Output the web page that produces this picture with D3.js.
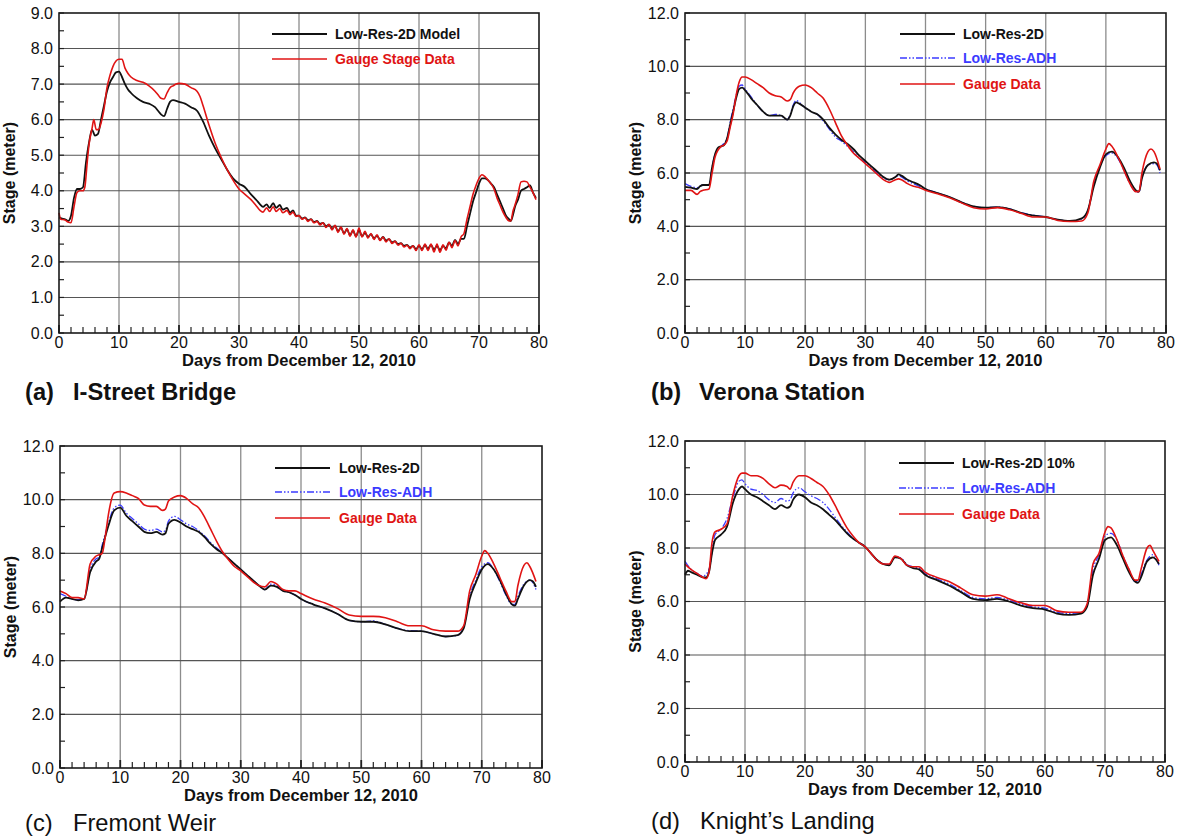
<!DOCTYPE html>
<html>
<head>
<meta charset="utf-8">
<script src="https://cdn.jsdelivr.net/npm/d3@7"></script>
<style>
  html, body { margin: 0; padding: 0; background: #fff; }
  svg { display: block; font-family: "Liberation Sans", Arial, sans-serif; }
</style>
</head>
<body>
<svg id="fig" width="1179" height="836"></svg>
<script>
// ---- Stage records, days from December 12, 2010 ----
const dayTicks = [0, 10, 20, 30, 40, 50, 60, 70, 80];
const stageTicksA = [0, 1, 2, 3, 4, 5, 6, 7, 8, 9];
const stageTicksBCD = [0, 2, 4, 6, 8, 10, 12];

// (a) I-Street Bridge
const iStreetModel = [[0,3.25],[0.5,3.22],[1,3.2],[1.5,3.15],[2,3.3],[2.5,3.8],[3,4.05],[3.5,4.05],[4,4.1],[4.5,4.8],[5,5.35],[5.5,5.72],[6,5.55],[6.5,5.6],[7,6.0],[7.5,6.4],[8,6.8],[8.5,7.05],[9,7.2],[9.5,7.33],[10,7.35],[10.5,7.2],[11,7.0],[11.5,6.85],[12,6.75],[13,6.6],[14,6.5],[15,6.45],[16,6.35],[16.5,6.25],[17,6.15],[17.5,6.1],[18,6.3],[18.5,6.5],[19,6.55],[20,6.5],[21,6.45],[22,6.35],[23,6.25],[24,5.95],[25,5.55],[26,5.2],[27,4.9],[28,4.6],[29,4.35],[30,4.2],[31,4.1],[32,3.9],[33,3.72],[33.5,3.62],[34,3.55],[34.6,3.62],[35.1,3.52],[35.7,3.65],[36.2,3.52],[36.8,3.6],[37.3,3.47],[38,3.52],[38.5,3.38],[39,3.45],[39.5,3.3],[40,3.3],[40.5,3.22],[41,3.25],[41.5,3.17],[42,3.2],[42.5,3.12],[43,3.15],[43.5,3.07],[44,3.1],[44.5,3.0],[45,3.05],[45.5,2.93],[46,3.02],[46.5,2.86],[47,2.97],[47.5,2.8],[48,2.92],[48.5,2.75],[49,2.88],[49.5,2.72],[50,2.9],[50.5,2.72],[51,2.82],[51.5,2.7],[52,2.78],[52.5,2.66],[53,2.74],[53.5,2.62],[54,2.7],[54.5,2.6],[55,2.64],[55.5,2.55],[56,2.58],[56.5,2.5],[57,2.53],[57.5,2.45],[58,2.48],[58.5,2.4],[59,2.45],[59.5,2.36],[60,2.45],[60.5,2.36],[61,2.47],[61.5,2.37],[62,2.48],[62.5,2.35],[63,2.45],[63.5,2.33],[64,2.45],[64.5,2.38],[65,2.55],[65.5,2.45],[66,2.62],[66.5,2.5],[67,2.65],[67.5,2.65],[68,3.0],[68.5,3.35],[69,3.7],[69.5,3.95],[70,4.2],[70.5,4.35],[71,4.35],[71.5,4.3],[72,4.2],[72.5,4.1],[73,3.9],[73.5,3.7],[74,3.5],[74.5,3.3],[75,3.2],[75.3,3.15],[75.7,3.35],[76,3.55],[76.5,3.75],[77,4.0],[77.5,4.05],[78,4.1],[78.5,4.15],[79,3.95],[79.5,3.8]];
const iStreetGauge = [[0,3.38],[0.3,3.2],[1,3.18],[1.5,3.12],[2,3.1],[2.5,3.55],[3,3.95],[3.5,4.0],[4,4.0],[4.3,4.1],[4.7,4.8],[5,5.3],[5.5,5.75],[5.8,6.0],[6.2,5.72],[6.6,5.72],[7,5.9],[7.5,6.3],[8,6.9],[8.5,7.25],[9,7.5],[9.5,7.65],[10,7.7],[10.5,7.7],[11,7.45],[11.5,7.3],[12,7.2],[13,7.1],[14,7.05],[15,6.95],[16,6.8],[16.5,6.7],[17,6.6],[17.5,6.58],[18,6.75],[18.5,6.9],[19,6.95],[19.5,7.0],[20,7.02],[21,7.0],[22,6.9],[23,6.8],[23.5,6.65],[24,6.4],[25,5.85],[26,5.35],[27,4.95],[28,4.6],[29,4.3],[30,4.05],[31,3.9],[32,3.75],[33,3.55],[33.5,3.45],[34,3.4],[34.6,3.52],[35.1,3.42],[35.7,3.55],[36.2,3.42],[36.8,3.5],[37.3,3.38],[38,3.45],[38.5,3.33],[39,3.4],[39.5,3.28],[40,3.3],[40.5,3.2],[41,3.24],[41.5,3.14],[42,3.2],[42.5,3.1],[43,3.14],[43.5,3.04],[44,3.1],[44.5,2.97],[45,3.06],[45.5,2.9],[46,3.03],[46.5,2.83],[47,2.98],[47.5,2.78],[48,2.94],[48.5,2.72],[49,2.9],[49.5,2.7],[50,2.95],[50.5,2.7],[51,2.86],[51.5,2.67],[52,2.8],[52.5,2.63],[53,2.76],[53.5,2.6],[54,2.7],[54.5,2.56],[55,2.65],[55.5,2.52],[56,2.58],[56.5,2.47],[57,2.52],[57.5,2.42],[58,2.47],[58.5,2.37],[59,2.45],[59.5,2.32],[60,2.48],[60.5,2.32],[61,2.5],[61.5,2.32],[62,2.5],[62.5,2.28],[63,2.5],[63.5,2.27],[64,2.48],[64.5,2.33],[65,2.55],[65.5,2.4],[66,2.6],[66.5,2.45],[67,2.7],[67.5,2.8],[68,3.2],[68.5,3.55],[69,3.9],[69.5,4.15],[70,4.35],[70.5,4.45],[71,4.4],[71.5,4.3],[72,4.2],[72.5,4.05],[73,3.8],[73.5,3.6],[74,3.4],[74.5,3.25],[75,3.15],[75.3,3.15],[75.7,3.45],[76,3.6],[76.5,3.9],[77,4.25],[77.5,4.27],[78,4.25],[78.5,4.1],[79,3.95],[79.5,3.75]];

// (b) Verona Station
const veronaModel = [[0,5.48],[1,5.45],[2,5.4],[2.5,5.5],[3,5.55],[4,5.55],[4.5,6.2],[5,6.7],[5.5,6.95],[6,7.0],[6.5,7.05],[7,7.3],[7.5,7.8],[8,8.3],[8.5,8.8],[9,9.15],[9.5,9.2],[10,9.1],[11,8.8],[12,8.55],[13,8.3],[14,8.15],[15,8.15],[16,8.15],[17,8.0],[17.5,8.15],[18,8.5],[18.5,8.65],[19,8.6],[20,8.45],[21,8.3],[22,8.2],[23,8.0],[24,7.7],[25,7.45],[26,7.25],[27,7.1],[28,6.9],[29,6.65],[30,6.45],[31,6.25],[32,6.05],[33,5.85],[34,5.75],[35,5.85],[35.5,5.95],[36,5.9],[37,5.75],[38,5.65],[39,5.55],[40,5.4],[42,5.25],[44,5.1],[46,4.9],[48,4.75],[50,4.7],[52,4.72],[54,4.65],[56,4.5],[58,4.4],[60,4.35],[62,4.25],[64,4.2],[66,4.3],[67,4.6],[68,5.5],[69,6.2],[70,6.7],[71,6.8],[72,6.6],[73,6.2],[74,5.7],[75,5.35],[75.5,5.3],[76,5.8],[77,6.3],[78,6.4],[78.5,6.35],[79,6.1]];
const veronaAdh = [[0,5.6],[1,5.5],[2,5.45],[3,5.55],[4,5.55],[4.5,6.2],[5,6.7],[6,7.0],[7,7.3],[7.5,7.9],[8,8.4],[8.5,8.9],[9,9.25],[9.5,9.3],[10,9.15],[11,8.85],[12,8.55],[13,8.3],[14,8.15],[15,8.2],[16,8.15],[17,8.0],[17.5,8.2],[18,8.55],[18.5,8.72],[19,8.65],[20,8.45],[21,8.3],[22,8.2],[23,7.95],[24,7.65],[25,7.35],[26,7.2],[27,7.0],[28,6.8],[29,6.55],[30,6.4],[31,6.2],[32,6.0],[33,5.8],[34,5.75],[35,5.85],[35.5,5.9],[36,5.85],[37,5.7],[38,5.6],[39,5.5],[40,5.4],[42,5.25],[44,5.1],[46,4.9],[48,4.75],[50,4.7],[52,4.72],[54,4.65],[56,4.5],[58,4.42],[60,4.35],[62,4.25],[64,4.2],[66,4.28],[67,4.6],[68,5.6],[69,6.25],[70,6.65],[71,6.75],[72,6.55],[73,6.1],[74,5.6],[75,5.3],[75.5,5.28],[76,5.8],[77,6.3],[78,6.35],[78.5,6.3],[79,6.0]];
const veronaGauge = [[0,5.35],[1,5.35],[2,5.2],[2.5,5.3],[3,5.35],[4,5.4],[4.5,6.0],[5,6.6],[6,7.0],[6.5,7.05],[7,7.2],[7.5,7.7],[8,8.2],[8.5,8.9],[9,9.4],[9.5,9.6],[10,9.6],[11,9.5],[12,9.35],[13,9.2],[14,9.0],[15,8.9],[16,8.85],[17,8.7],[17.5,8.75],[18,9.0],[19,9.25],[20,9.3],[21,9.2],[22,9.0],[23,8.8],[24,8.4],[25,7.9],[26,7.4],[27,7.05],[28,6.75],[29,6.55],[30,6.35],[31,6.15],[32,5.95],[33,5.75],[34,5.65],[35,5.75],[35.5,5.78],[36,5.75],[37,5.6],[38,5.5],[39,5.45],[40,5.35],[42,5.22],[44,5.07],[46,4.88],[48,4.7],[50,4.65],[52,4.7],[54,4.62],[56,4.48],[58,4.35],[60,4.35],[62,4.22],[64,4.18],[66,4.2],[67,4.5],[68,5.7],[69,6.3],[70,6.9],[70.5,7.1],[71,7.0],[72,6.6],[73,6.1],[74,5.6],[75,5.3],[75.5,5.3],[76,6.0],[77,6.8],[77.5,6.9],[78,6.8],[79,6.15]];

// (c) Fremont Weir
const fremontModel = [[0,6.2],[1,6.35],[2,6.3],[3,6.25],[4,6.3],[5,7.3],[6,7.7],[6.5,7.8],[7,8.2],[8,9.0],[9,9.6],[10,9.7],[11,9.4],[12,9.2],[13,9.0],[14,8.8],[15,8.75],[16,8.8],[17,8.7],[17.5,8.75],[18,9.1],[19,9.25],[20,9.15],[21,9.0],[22,8.9],[23,8.8],[24,8.6],[25,8.35],[26,8.15],[27,8.0],[28,7.8],[29,7.6],[30,7.4],[31,7.2],[32,7.0],[33,6.8],[34,6.65],[35,6.8],[36,6.75],[37,6.6],[38,6.55],[39,6.45],[40,6.3],[42,6.1],[44,5.95],[46,5.75],[48,5.5],[50,5.45],[52,5.45],[54,5.35],[56,5.2],[58,5.1],[60,5.1],[62,5.0],[64,4.9],[66,4.95],[67,5.2],[68,6.3],[69,6.9],[70,7.4],[71,7.6],[72,7.4],[73,7.0],[74,6.5],[75,6.1],[75.5,6.05],[76,6.3],[77,6.8],[78,7.0],[78.5,6.95],[79,6.75]];
const fremontAdh = [[0,6.5],[1,6.4],[2,6.3],[3,6.27],[4,6.3],[5,7.4],[6,7.8],[6.5,7.85],[7,8.3],[8,9.1],[9,9.7],[10,9.8],[11,9.5],[12,9.3],[13,9.1],[14,8.9],[15,8.85],[16,8.9],[17,8.8],[17.5,8.85],[18,9.2],[19,9.38],[20,9.25],[21,9.1],[22,9.0],[23,8.85],[24,8.65],[25,8.4],[26,8.2],[27,8.0],[28,7.8],[29,7.6],[30,7.4],[31,7.2],[32,7.0],[33,6.8],[34,6.65],[35,6.85],[36,6.8],[37,6.6],[38,6.55],[39,6.45],[40,6.3],[42,6.1],[44,5.95],[46,5.75],[48,5.5],[50,5.45],[52,5.48],[54,5.35],[56,5.2],[58,5.12],[60,5.1],[62,5.0],[64,4.9],[66,4.95],[67,5.25],[68,6.4],[69,7.0],[70,7.5],[71,7.65],[72,7.4],[73,6.95],[74,6.45],[75,6.1],[75.5,6.1],[76,6.4],[77,6.85],[78,7.0],[78.5,6.9],[79,6.65]];
const fremontGauge = [[0,6.6],[1,6.5],[2,6.35],[3,6.35],[4,6.3],[5,7.6],[6,7.9],[7,8.0],[7.5,8.6],[8,9.4],[9,10.25],[10,10.3],[11,10.25],[12,10.15],[13,10.05],[14,9.8],[15,9.75],[16,9.75],[17,9.6],[17.5,9.65],[18,9.95],[19,10.1],[20,10.15],[21,10.05],[22,9.85],[23,9.7],[24,9.35],[25,8.9],[26,8.45],[27,8.05],[28,7.75],[29,7.5],[30,7.35],[31,7.15],[32,6.95],[33,6.8],[34,6.75],[35,6.95],[36,6.85],[37,6.65],[38,6.6],[39,6.6],[40,6.5],[42,6.3],[44,6.15],[46,5.95],[48,5.7],[50,5.65],[52,5.65],[54,5.6],[56,5.45],[58,5.3],[60,5.3],[62,5.15],[64,5.1],[66,5.1],[67,5.3],[68,6.6],[69,7.2],[70,7.9],[70.5,8.1],[71,8.0],[72,7.6],[73,7.1],[74,6.6],[75,6.2],[75.5,6.2],[76,6.8],[77,7.55],[77.5,7.65],[78,7.5],[79,6.95]];

// (d) Knight's Landing
const knightsModel = [[0,7.0],[0.5,7.15],[1,7.1],[2,7.0],[3,6.9],[3.5,6.9],[4,7.1],[4.5,7.8],[5,8.3],[6,8.5],[7,8.8],[8,9.7],[9,10.2],[9.5,10.3],[10,10.2],[11,10.0],[12,9.9],[13,9.75],[14,9.6],[15,9.45],[16,9.6],[17,9.5],[17.5,9.55],[18,9.8],[19,10.0],[20,9.9],[21,9.7],[22,9.6],[23,9.45],[24,9.25],[25,9.05],[26,8.8],[27,8.55],[28,8.35],[29,8.2],[30,8.05],[31,7.8],[32,7.55],[33,7.4],[34,7.35],[35,7.65],[36,7.6],[37,7.35],[38,7.25],[39,7.2],[40,7.0],[42,6.8],[44,6.6],[46,6.35],[48,6.1],[50,6.05],[52,6.1],[54,6.0],[56,5.85],[58,5.75],[60,5.7],[62,5.55],[64,5.5],[66,5.55],[67,5.8],[68,7.0],[69,7.6],[70,8.3],[71,8.4],[72,8.1],[73,7.6],[74,7.1],[75,6.75],[75.5,6.7],[76,6.9],[77,7.5],[78,7.65],[79,7.4]];
const knightsAdh = [[0,7.5],[1,7.2],[2,7.05],[3,6.95],[4,7.2],[5,8.5],[6,8.7],[7,9.1],[8,9.9],[9,10.5],[9.5,10.55],[10,10.4],[11,10.2],[12,10.15],[13,10.0],[14,9.8],[15,9.7],[16,9.85],[17,9.75],[17.5,9.8],[18,10.05],[19,10.25],[20,10.1],[21,9.95],[22,9.85],[23,9.7],[24,9.45],[25,9.15],[26,8.85],[27,8.6],[28,8.35],[29,8.2],[30,8.05],[31,7.8],[32,7.55],[33,7.42],[34,7.38],[35,7.68],[36,7.62],[37,7.38],[38,7.3],[39,7.25],[40,7.05],[42,6.85],[44,6.65],[46,6.4],[48,6.15],[50,6.1],[52,6.15],[54,6.05],[56,5.9],[58,5.8],[60,5.75],[62,5.6],[64,5.55],[66,5.58],[67,5.85],[68,7.2],[69,7.75],[70,8.45],[71,8.55],[72,8.3],[73,7.7],[74,7.2],[75,6.75],[75.5,6.75],[76,7.0],[77,7.55],[78,7.75],[79,7.35]];
const knightsGauge = [[0,7.4],[1,7.2],[2,7.05],[3,6.9],[3.5,6.85],[4,7.1],[4.5,8.2],[5,8.6],[6,8.7],[7,8.9],[8,10.0],[9,10.7],[9.5,10.8],[10,10.8],[11,10.7],[12,10.7],[13,10.6],[14,10.4],[15,10.25],[16,10.35],[17,10.3],[17.5,10.2],[18,10.45],[19,10.7],[20,10.7],[21,10.6],[22,10.45],[23,10.3],[24,10.0],[25,9.6],[26,9.15],[27,8.75],[28,8.45],[29,8.2],[30,8.05],[31,7.8],[32,7.55],[33,7.4],[34,7.4],[35,7.7],[36,7.6],[37,7.35],[38,7.3],[39,7.3],[40,7.1],[42,6.9],[44,6.75],[46,6.5],[48,6.25],[50,6.2],[52,6.25],[53,6.2],[54,6.1],[56,5.95],[58,5.85],[60,5.85],[62,5.65],[64,5.6],[66,5.6],[67,5.9],[68,7.4],[69,7.8],[70,8.6],[70.5,8.8],[71,8.75],[72,8.3],[73,7.7],[74,7.2],[75,6.8],[75.5,6.8],[76,7.2],[77,8.0],[77.5,8.1],[78,7.9],[79,7.5]];

// ---- Drawing ----
const COLORS = { model: "#111111", adh: "#3b3bff", gauge: "#e01414" };

const panels = [
  { box: [59, 13, 539, 333], yMax: 9, yTicks: stageTicksA, yMinorStep: 0.5,
    caption: ["(a)", "I-Street Bridge"], captionBold: true, capX: [25, 73], capY: 400,
    legend: { x1: 272, x2: 327, tx: 335, rows: [34, 59] },
    series: [
      { name: "Low-Res-2D Model", data: iStreetModel, kind: "model" },
      { name: "Gauge Stage Data", data: iStreetGauge, kind: "gauge" } ] },
  { box: [685, 13, 1166, 333], yMax: 12, yTicks: stageTicksBCD, yMinorStep: 1,
    caption: ["(b)", "Verona Station"], captionBold: true, capX: [651, 699], capY: 400,
    legend: { x1: 900, x2: 955, tx: 963, rows: [34, 58, 84] },
    series: [
      { name: "Low-Res-2D", data: veronaModel, kind: "model" },
      { name: "Low-Res-ADH", data: veronaAdh, kind: "adh" },
      { name: "Gauge Data", data: veronaGauge, kind: "gauge" } ] },
  { box: [60, 446, 542, 768], yMax: 12, yTicks: stageTicksBCD, yMinorStep: 1,
    caption: ["(c)", "Fremont Weir"], captionBold: false, capX: [25, 73], capY: 831,
    legend: { x1: 275, x2: 330, tx: 339, rows: [468, 492, 518] },
    series: [
      { name: "Low-Res-2D", data: fremontModel, kind: "model" },
      { name: "Low-Res-ADH", data: fremontAdh, kind: "adh" },
      { name: "Gauge Data", data: fremontGauge, kind: "gauge" } ] },
  { box: [685, 441, 1165, 762], yMax: 12, yTicks: stageTicksBCD, yMinorStep: 1,
    caption: ["(d)", "Knight\u2019s Landing"], captionBold: false, capX: [651, 700], capY: 829,
    legend: { x1: 899, x2: 954, tx: 962, rows: [463, 488, 514] },
    series: [
      { name: "Low-Res-2D 10%", data: knightsModel, kind: "model" },
      { name: "Low-Res-ADH", data: knightsAdh, kind: "adh" },
      { name: "Gauge Data", data: knightsGauge, kind: "gauge" } ] }
];

const svg = d3.select("#fig");

function styleLine(sel, kind) {
  sel.attr("fill", "none")
     .attr("stroke", COLORS[kind])
     .attr("stroke-width", kind === "model" ? 1.8 : (kind === "adh" ? 1.3 : 1.6))
     .attr("stroke-linejoin", "round")
     .attr("stroke-dasharray", kind === "adh" ? "7,2,1.5,2,1.5,2" : null);
}

panels.forEach(p => {
  const [x0, y0, x1, y1] = p.box;
  const x = d3.scaleLinear().domain([0, 80]).range([x0, x1]);
  const y = d3.scaleLinear().domain([0, p.yMax]).range([y1, y0]);
  const g = svg.append("g");

  // grid lines
  g.append("g").selectAll("line").data(dayTicks.slice(1, -1)).join("line")
    .attr("x1", d => x(d)).attr("x2", d => x(d))
    .attr("y1", y0).attr("y2", y1)
    .attr("stroke", "#8c8c8c").attr("stroke-width", 1.3);
  g.append("g").selectAll("line").data(p.yTicks.slice(1, -1)).join("line")
    .attr("x1", x0).attr("x2", x1)
    .attr("y1", d => y(d)).attr("y2", d => y(d))
    .attr("stroke", "#555").attr("stroke-width", 1.1);

  // inward minor ticks (bottom every 2 days, left every half/whole step)
  const xMinor = d3.range(0, 80.01, 2);
  g.append("g").selectAll("line").data(xMinor).join("line")
    .attr("x1", d => x(d)).attr("x2", d => x(d))
    .attr("y1", y1).attr("y2", d => y1 - (d % 10 === 0 ? 8 : 6))
    .attr("stroke", "#222").attr("stroke-width", d => d % 10 === 0 ? 1.8 : 1.2);
  const yMinor = d3.range(0, p.yMax + 0.001, p.yMinorStep);
  g.append("g").selectAll("line").data(yMinor).join("line")
    .attr("x1", x0).attr("x2", x0 + 5)
    .attr("y1", d => y(d)).attr("y2", d => y(d))
    .attr("stroke", "#222").attr("stroke-width", 1.2);

  // series
  const line = d3.line().x(d => x(d[0])).y(d => y(d[1])).curve(d3.curveMonotoneX);
  const order = ["adh", "model", "gauge"];
  p.series.slice().sort((a, b) => order.indexOf(a.kind) - order.indexOf(b.kind))
    .forEach(s => {
      g.append("path").datum(s.data).attr("d", line).call(styleLine, s.kind);
    });

  // frame
  g.append("rect").attr("x", x0).attr("y", y0)
    .attr("width", x1 - x0).attr("height", y1 - y0)
    .attr("fill", "none").attr("stroke", "#1a1a1a").attr("stroke-width", 1.6);

  // tick labels
  g.append("g").selectAll("text").data(dayTicks).join("text")
    .attr("x", d => x(d)).attr("y", y1 + 15)
    .attr("text-anchor", "middle").attr("font-size", 16).attr("fill", "#111")
    .text(d => d);
  g.append("g").selectAll("text").data(p.yTicks).join("text")
    .attr("x", x0 - 6).attr("y", d => y(d) + 5.5)
    .attr("text-anchor", "end").attr("font-size", 16).attr("fill", "#111")
    .text(d => d3.format(".1f")(d));

  // axis titles
  g.append("text").attr("x", (x0 + x1) / 2).attr("y", y1 + 33)
    .attr("text-anchor", "middle").attr("font-size", 16.5).attr("font-weight", "bold")
    .attr("fill", "#111").text("Days from December 12, 2010");
  g.append("text")
    .attr("transform", `translate(${x0 - 44},${(y0 + y1) / 2}) rotate(-90)`)
    .attr("text-anchor", "middle").attr("font-size", 16).attr("font-weight", "bold")
    .attr("fill", "#111").text("Stage (meter)");

  // legend
  const lg = g.append("g");
  p.series.forEach((s, i) => {
    const ly = p.legend.rows[i];
    lg.append("line").attr("x1", p.legend.x1).attr("x2", p.legend.x2)
      .attr("y1", ly).attr("y2", ly).call(styleLine, s.kind);
    lg.append("text").attr("x", p.legend.tx).attr("y", ly + 5)
      .attr("font-size", 14).attr("font-weight", "bold")
      .attr("fill", COLORS[s.kind]).text(s.name);
  });

  // caption
  const cap = g.append("g").attr("font-size", 23.7)
    .attr("font-weight", p.captionBold ? "bold" : "normal").attr("fill", "#111");
  cap.append("text").attr("x", p.capX[0]).attr("y", p.capY).text(p.caption[0]);
  cap.append("text").attr("x", p.capX[1]).attr("y", p.capY).text(p.caption[1]);
});
</script>
</body>
</html>
